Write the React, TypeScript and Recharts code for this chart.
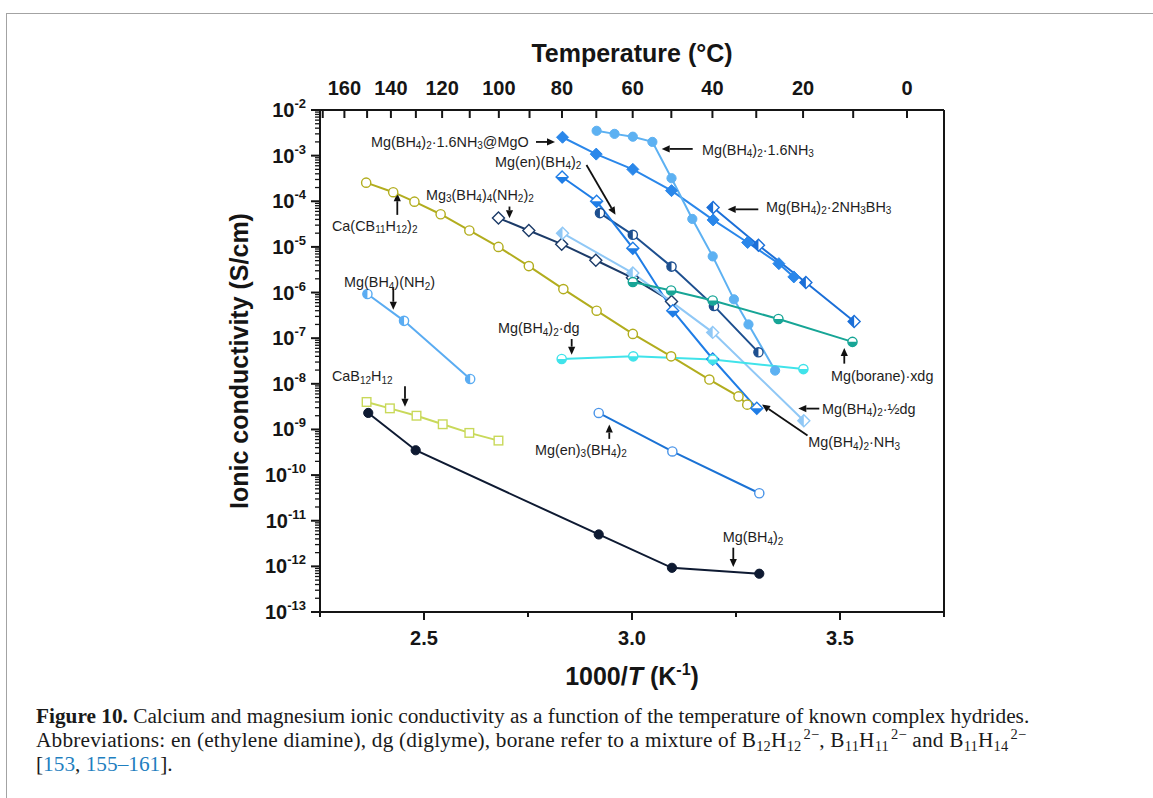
import React from "react";
import { ComposedChart, Line, XAxis, YAxis, ReferenceLine, ReferenceDot, Label } from "recharts";

const FONT = "'Liberation Sans', Arial, Helvetica, sans-serif";
const INK = "#151515";

// ---- data: x = 1000/T (K^-1), y = ionic conductivity (S/cm) ----
const mgBH4X = [2.366, 2.48, 2.92, 3.096, 3.306];
const mgBH4Y = [2.3e-9, 3.5e-10, 5.0e-12, 9.3e-13, 6.9e-13];

const caB12X = [2.362, 2.418, 2.482, 2.545, 2.609, 2.679];
const caB12Y = [4.0e-9, 2.9e-9, 2.0e-9, 1.3e-9, 8.4e-10, 5.7e-10];

const mgBH4NH2X = [2.364, 2.452, 2.611];
const mgBH4NH2Y = [9.3e-7, 2.4e-7, 1.28e-8];

const caCB11X = [2.361, 2.426, 2.477, 2.54, 2.609, 2.679, 2.752, 2.835, 2.915, 3.002, 3.094, 3.186, 3.256, 3.277];
const caCB11Y = [2.56e-4, 1.58e-4, 9.8e-5, 5.2e-5, 2.29e-5, 1.0e-5, 3.8e-6, 1.19e-6, 4.0e-7, 1.24e-7, 4.0e-8, 1.24e-8, 5.3e-9, 3.5e-9];

const mg3X = [2.679, 2.752, 2.831, 2.913, 3.001, 3.095];
const mg3Y = [4.3e-5, 2.29e-5, 1.15e-5, 5.1e-6, 2.1e-6, 6.4e-7];

const mgoX = [2.833, 2.914, 3.002, 3.095, 3.195, 3.278, 3.353, 3.389];
const mgoY = [2.53e-3, 1.08e-3, 5.0e-4, 1.71e-4, 3.9e-5, 1.25e-5, 4.3e-6, 2.2e-6];

const ab2X = [3.195, 3.304, 3.418, 3.534];
const ab2Y = [7.3e-5, 1.09e-5, 1.66e-6, 2.33e-7];

const nh16X = [2.915, 2.958, 3.002, 3.049, 3.095, 3.145, 3.194, 3.245, 3.28, 3.344];
const nh16Y = [3.5e-3, 3.0e-3, 2.6e-3, 2.0e-3, 3.2e-4, 4.1e-5, 6.2e-6, 7.1e-7, 2.0e-7, 1.95e-8];

const enX = [2.923, 3.002, 3.095, 3.197, 3.304];
const enY = [5.5e-5, 1.84e-5, 3.7e-6, 5.1e-7, 4.9e-8];

const nh3X = [2.832, 2.915, 3.002, 3.098, 3.194, 3.3];
const nh3Y = [3.4e-4, 1.0e-4, 9.4e-6, 4.0e-7, 3.5e-8, 2.9e-9];

const halfDgX = [2.833, 3.002, 3.194, 3.413];
const halfDgY = [2.0e-5, 2.67e-6, 1.34e-7, 1.55e-9];

const boraneX = [3.002, 3.094, 3.194, 3.352, 3.53];
const boraneY = [1.7e-6, 1.11e-6, 6.7e-7, 2.63e-7, 8.3e-8];

const dgX = [2.831, 3.003, 3.194, 3.412];
const dgY = [3.5e-8, 4.0e-8, 3.4e-8, 2.1e-8];

const en3X = [2.92, 3.097, 3.306];
const en3Y = [2.3e-9, 3.3e-10, 4.0e-11];

// ---- axes ----
const xTicks = [2.25, 2.5, 2.75, 3.0, 3.25, 3.5, 3.75];
const xTickLabels = ["", "2.5", "", "3.0", "", "3.5", ""];
const tempTicksC = [170, 160, 150, 140, 130, 120, 110, 100, 90, 80, 70, 60, 50, 40, 30, 20, 10, 0];
const yExponents = [-13, -12, -11, -10, -9, -8, -7, -6, -5, -4, -3, -2];
const yMinorMultipliers = [2, 3, 4, 5, 6, 7, 8, 9];

// ---- annotations (data coordinates: x = 1000/T, y = log10 sigma) ----
const labelTexts = [
  "Mg(BH_4)_2·1.6NH_3@MgO",
  "Mg(en)(BH_4)_2",
  "Mg_3(BH_4)_4(NH_2)_2",
  "Ca(CB_11H_12)_2",
  "Mg(BH_4)(NH_2)",
  "CaB_12H_12",
  "Mg(BH_4)_2·1.6NH_3",
  "Mg(BH_4)_2·2NH_3BH_3",
  "Mg(borane)·xdg",
  "Mg(BH_4)_2·½dg",
  "Mg(BH_4)_2·NH_3",
  "Mg(BH_4)_2·dg",
  "Mg(en)_3(BH_4)_2",
  "Mg(BH_4)_2",
];
const labelX = [2.3726, 2.6707, 2.5048, 2.2788, 2.3077, 2.2788, 3.1683, 3.3221, 3.4784, 3.4567, 3.4238, 2.6779, 2.7668, 3.218];
const labelLogY = [-2.7, -3.138, -3.86, -4.538, -5.779, -7.836, -2.875, -4.123, -7.836, -8.549, -9.28, -6.777, -9.44, -11.359];

const arrowX1 = [2.7692, 2.8906, 2.7055, 2.4358, 2.4262, 2.4543, 3.1459, 3.3036, 3.5103, 3.4502, 3.4219, 2.855, 2.9454, 3.2435];
const arrowY1 = [-2.7, -3.204, -4.116, -4.298, -5.902, -8.055, -2.853, -4.177, -7.558, -8.543, -9.133, -7.018, -9.206, -11.591];
const arrowX2 = [2.8149, 2.9603, 2.7055, 2.4358, 2.4262, 2.4543, 3.0714, 3.23, 3.5103, 3.3998, 3.3125, 2.855, 2.9454, 3.2435];
const arrowY2 = [-2.7, -4.298, -4.37, -3.823, -6.376, -8.505, -2.853, -4.177, -7.214, -8.543, -8.455, -7.361, -8.893, -12.015];

const pts = (xs: number[], ys: number[]) => xs.map((x, i) => ({ x, y: ys[i] }));

type Kind =
  | "filledCircle"
  | "openCircle"
  | "halfCircleLeft"
  | "halfCircleBottom"
  | "filledDiamond"
  | "openDiamond"
  | "halfDiamondLeft"
  | "halfDiamondBottom"
  | "openSquare";

const series: { name: string; data: { x: number; y: number }[]; color: string; edge: string; kind: Kind }[] = [
  { name: "Mg(BH4)2", data: pts(mgBH4X, mgBH4Y), color: "#0e1a32", edge: "#0e1a32", kind: "filledCircle" },
  { name: "CaB12H12", data: pts(caB12X, caB12Y), color: "#c9d95a", edge: "#c9d95a", kind: "openSquare" },
  { name: "Mg(BH4)(NH2)", data: pts(mgBH4NH2X, mgBH4NH2Y), color: "#5aacf2", edge: "#5aacf2", kind: "halfCircleLeft" },
  { name: "Ca(CB11H12)2", data: pts(caCB11X, caCB11Y), color: "#b2ad1e", edge: "#b2ad1e", kind: "openCircle" },
  { name: "Mg3(BH4)4(NH2)2", data: pts(mg3X, mg3Y), color: "#1c3b68", edge: "#1c3b68", kind: "openDiamond" },
  { name: "Mg(BH4)2·1.6NH3@MgO", data: pts(mgoX, mgoY), color: "#2a87ea", edge: "#2a87ea", kind: "filledDiamond" },
  { name: "Mg(BH4)2·2NH3BH3", data: pts(ab2X, ab2Y), color: "#1b6fd8", edge: "#1b6fd8", kind: "halfDiamondLeft" },
  { name: "Mg(BH4)2·1.6NH3", data: pts(nh16X, nh16Y), color: "#5db1f2", edge: "#5db1f2", kind: "filledCircle" },
  { name: "Mg(en)(BH4)2", data: pts(enX, enY), color: "#1d4f8f", edge: "#1d4f8f", kind: "halfCircleLeft" },
  { name: "Mg(BH4)2·NH3", data: pts(nh3X, nh3Y), color: "#1f7de6", edge: "#1f7de6", kind: "halfDiamondBottom" },
  { name: "Mg(BH4)2·½dg", data: pts(halfDgX, halfDgY), color: "#90c8f6", edge: "#90c8f6", kind: "halfDiamondLeft" },
  { name: "Mg(borane)·xdg", data: pts(boraneX, boraneY), color: "#17a596", edge: "#17a596", kind: "halfCircleBottom" },
  { name: "Mg(BH4)2·dg", data: pts(dgX, dgY), color: "#40e3ea", edge: "#40e3ea", kind: "halfCircleBottom" },
  { name: "Mg(en)3(BH4)2", data: pts(en3X, en3Y), color: "#1b72d4", edge: "#4a94e8", kind: "openCircle" },
];

const Marker = ({ cx, cy, kind, color, edge }: { cx: number; cy: number; kind: Kind; color: string; edge: string }) => {
  if (cx == null || cy == null || isNaN(cx) || isNaN(cy)) return null;
  const r = 4.6;
  const s = 6;
  const sw = 1.4;
  const diamond = `M${cx},${cy - s} L${cx + s},${cy} L${cx},${cy + s} L${cx - s},${cy} Z`;
  switch (kind) {
    case "filledCircle":
      return <circle cx={cx} cy={cy} r={r} fill={color} stroke={color} strokeWidth={1} />;
    case "openCircle":
      return <circle cx={cx} cy={cy} r={r} fill="#fff" stroke={edge} strokeWidth={sw} />;
    case "halfCircleLeft":
      return (
        <g>
          <circle cx={cx} cy={cy} r={r} fill="#fff" stroke={color} strokeWidth={sw} />
          <path d={`M${cx},${cy - r} A${r},${r} 0 0 0 ${cx},${cy + r} Z`} fill={color} />
        </g>
      );
    case "halfCircleBottom":
      return (
        <g>
          <circle cx={cx} cy={cy} r={r} fill="#fff" stroke={color} strokeWidth={sw} />
          <path d={`M${cx - r},${cy} A${r},${r} 0 0 0 ${cx + r},${cy} Z`} fill={color} />
        </g>
      );
    case "filledDiamond":
      return <path d={diamond} fill={color} stroke={color} strokeWidth={1} />;
    case "openDiamond":
      return <path d={diamond} fill="#fff" stroke={edge} strokeWidth={sw} />;
    case "halfDiamondLeft":
      return (
        <g>
          <path d={diamond} fill="#fff" stroke={color} strokeWidth={sw} />
          <path d={`M${cx},${cy - s} L${cx - s},${cy} L${cx},${cy + s} Z`} fill={color} />
        </g>
      );
    case "halfDiamondBottom":
      return (
        <g>
          <path d={diamond} fill="#fff" stroke={color} strokeWidth={sw} />
          <path d={`M${cx - s},${cy} L${cx + s},${cy} L${cx},${cy + s} Z`} fill={color} />
        </g>
      );
    case "openSquare":
      return <rect x={cx - 4.3} y={cy - 4.3} width={8.6} height={8.6} fill="#fff" stroke={edge} strokeWidth={sw} />;
  }
  return null;
};

const Formula = ({ x, y, text }: { x: number; y: number; text: string }) => {
  const parts = text.split(/(_\d+)/).filter((p) => p.length > 0);
  let low = false;
  return (
    <text x={x} y={y + 5} fontFamily={FONT} fontSize={14.4} fill="#1e1e1e">
      {parts.map((p, i) => {
        if (p.startsWith("_")) {
          const dy = low ? 0 : 2.5;
          low = true;
          return (
            <tspan key={i} fontSize={10} dy={dy}>
              {p.slice(1)}
            </tspan>
          );
        }
        const dy = low ? -2.5 : 0;
        low = false;
        return (
          <tspan key={i} dy={dy}>
            {p}
          </tspan>
        );
      })}
    </text>
  );
};

const ArrowShape = (p: any) => {
  const { x1, y1, x2, y2 } = p;
  if ([x1, y1, x2, y2].some((v) => v == null || isNaN(v))) return null;
  const a = Math.atan2(y2 - y1, x2 - x1);
  const L = 8;
  const W = 3.6;
  const bx = x2 - L * Math.cos(a);
  const by = y2 - L * Math.sin(a);
  const pts2 = `${x2},${y2} ${bx - W * Math.sin(a)},${by + W * Math.cos(a)} ${bx + W * Math.sin(a)},${by - W * Math.cos(a)}`;
  return (
    <g>
      <line x1={x1} y1={y1} x2={bx} y2={by} stroke="#111" strokeWidth={1.8} />
      <polygon points={pts2} fill="#111" />
    </g>
  );
};

const YTick = (props: any) => {
  const { x, y, payload } = props;
  const v = payload.value as number;
  const lg = Math.log10(v);
  const major = Math.abs(lg - Math.round(lg)) < 1e-6;
  return (
    <g>
      <line x1={x - (major ? 9 : 5)} x2={x} y1={y} y2={y} stroke={INK} strokeWidth={major ? 2 : 1.3} />
      {major && (
        <text x={x - 14} y={y + 7} textAnchor="end" fontFamily={FONT} fontWeight="bold" fontSize={20} fill={INK}>
          10
          <tspan dy={-9} fontSize={13}>
            {String(Math.round(lg))}
          </tspan>
        </text>
      )}
    </g>
  );
};

const BottomTick = (props: any) => {
  const { x, y, index } = props;
  const lab = xTickLabels[index] ?? "";
  return (
    <g>
      <line x1={x} x2={x} y1={y} y2={y + (lab ? 8 : 5)} stroke={INK} strokeWidth={2} />
      {lab && (
        <text x={x} y={y + 33} textAnchor="middle" fontFamily={FONT} fontWeight="bold" fontSize={20} fill={INK}>
          {lab}
        </text>
      )}
    </g>
  );
};

// temperature (°C) tick on the top edge, drawn on the shared 1000/T scale
const TopTickShape = (p: any, label: string) => {
  const { x1, y1, y2 } = p;
  if (x1 == null || isNaN(x1)) return null;
  const top = Math.min(y1, y2);
  return (
    <g>
      <line x1={x1} x2={x1} y1={top} y2={top + 8} stroke={INK} strokeWidth={2} />
      {label && (
        <text x={x1} y={top - 15} textAnchor="middle" fontFamily={FONT} fontWeight="bold" fontSize={20} fill={INK}>
          {label}
        </text>
      )}
    </g>
  );
};

const yTicks: number[] = [];
yExponents.forEach((e) => {
  yTicks.push(10 ** e);
  if (e < -2) yMinorMultipliers.forEach((m) => yTicks.push(m * 10 ** e));
});

const topTickPositions = tempTicksC.map((t) => 1000 / (t + 273.15));

const subStyle: React.CSSProperties = { fontSize: "68%", lineHeight: 0, verticalAlign: "baseline", position: "relative", top: "0.3em" };
const supStyle: React.CSSProperties = { fontSize: "68%", lineHeight: 0, verticalAlign: "baseline", position: "relative", top: "-0.55em", marginLeft: 2 };

export default function App() {
  return (
    <div style={{ position: "absolute", left: 0, top: 0, width: 1153, height: 798, overflow: "hidden", background: "#fff" }}>
      <div
        style={{
          position: "absolute",
          left: 6,
          top: 13,
          width: 1200,
          height: 900,
          borderTop: "1.5px solid #a3a3a3",
          borderLeft: "1.5px solid #a3a3a3",
        }}
      />
      <div style={{ position: "absolute", left: 0, top: 0 }}>
        <ComposedChart width={1153} height={700} margin={{ top: 10, right: 208, bottom: 10, left: 200 }}>
          <XAxis
            xAxisId={0}
            dataKey="x"
            type="number"
            domain={[2.25, 3.75]}
            allowDataOverflow
            ticks={xTicks}
            interval={0}
            height={78}
            tickSize={0}
            tickMargin={0}
            tickLine={false}
            tick={<BottomTick />}
            axisLine={{ stroke: INK, strokeWidth: 2 }}
          >
            <Label
              content={(p: any) => {
                const vb = p.viewBox || { x: 320, y: 612, width: 624 };
                return (
                  <text x={vb.x + vb.width / 2} y={vb.y + 73} textAnchor="middle" fontFamily={FONT} fontWeight="bold" fontSize={25} fill={INK}>
                    1000/<tspan fontStyle="italic">T</tspan> (K
                    <tspan dy={-10} fontSize={16}>
                      -1
                    </tspan>
                    <tspan dy={10}>)</tspan>
                  </text>
                );
              }}
            />
          </XAxis>
          <XAxis
            xAxisId="top"
            orientation="top"
            type="number"
            domain={[2.25, 3.75]}
            allowDataOverflow
            height={100}
            tick={false}
            tickLine={false}
            axisLine={{ stroke: INK, strokeWidth: 2 }}
          >
            <Label
              content={(p: any) => {
                const vb = p.viewBox || { x: 320, y: 10, width: 624, height: 100 };
                return (
                  <text x={vb.x + vb.width / 2} y={vb.y + vb.height - 48} textAnchor="middle" fontFamily={FONT} fontWeight="bold" fontSize={25} fill={INK}>
                    Temperature (°C)
                  </text>
                );
              }}
            />
          </XAxis>
          <YAxis
            yAxisId={0}
            type="number"
            scale="log"
            domain={[1e-13, 1e-2]}
            allowDataOverflow
            ticks={yTicks}
            interval={0}
            width={120}
            tickSize={0}
            tickMargin={0}
            tickLine={false}
            tick={<YTick />}
            axisLine={{ stroke: INK, strokeWidth: 2 }}
          >
            <Label
              content={(p: any) => {
                const vb = p.viewBox || { x: 200, y: 110, width: 120, height: 502 };
                const cx = vb.x + vb.width - 72;
                const cy = vb.y + vb.height / 2;
                return (
                  <text x={cx} y={cy} transform={`rotate(-90 ${cx} ${cy})`} textAnchor="middle" fontFamily={FONT} fontWeight="bold" fontSize={25} fill={INK}>
                    Ionic conductivity (S/cm)
                  </text>
                );
              }}
            />
          </YAxis>
          <YAxis yAxisId="right" orientation="right" type="number" domain={[0, 1]} width={1} tick={false} tickLine={false} axisLine={{ stroke: INK, strokeWidth: 2 }} />

          {topTickPositions.map((pos, i) => (
            <ReferenceLine
              key={`tt-${i}`}
              x={pos}
              ifOverflow="visible"
              shape={(p: any) => TopTickShape(p, tempTicksC[i] % 20 === 0 ? String(tempTicksC[i]) : "")}
            />
          ))}

          {series.map((s) => (
            <Line
              key={s.name}
              name={s.name}
              data={s.data}
              dataKey="y"
              type="linear"
              stroke={s.color}
              strokeWidth={2}
              isAnimationActive={false}
              activeDot={false}
              dot={(p: any) => <Marker key={`${s.name}-${p.index}`} cx={p.cx} cy={p.cy} kind={s.kind} color={s.color} edge={s.edge} />}
            />
          ))}

          {labelTexts.map((t, i) => (
            <ReferenceDot
              key={`lab-${i}`}
              x={labelX[i]}
              y={10 ** labelLogY[i]}
              r={0}
              ifOverflow="visible"
              shape={(p: any) => <Formula x={p.cx} y={p.cy} text={t} />}
            />
          ))}
          {arrowX1.map((_, i) => (
            <ReferenceLine
              key={`arr-${i}`}
              segment={[
                { x: arrowX1[i], y: 10 ** arrowY1[i] },
                { x: arrowX2[i], y: 10 ** arrowY2[i] },
              ]}
              ifOverflow="visible"
              shape={ArrowShape}
            />
          ))}
        </ComposedChart>
      </div>
      <div
        style={{
          position: "absolute",
          left: 36,
          top: 704,
          width: 1110,
          fontFamily: "'Liberation Serif', 'Times New Roman', serif",
          fontSize: 21.3,
          lineHeight: "24px",
          color: "#1a1a1a",
          whiteSpace: "nowrap",
        }}
      >
        <div>
          <b>Figure 10.</b> Calcium and magnesium ionic conductivity as a function of the temperature of known complex hydrides.
        </div>
        <div style={{ letterSpacing: "0.2px" }}>
          Abbreviations: en (ethylene diamine), dg (diglyme), borane refer to a mixture of B<span style={subStyle}>12</span>H
          <span style={subStyle}>12</span>
          <span style={supStyle}>2−</span>, B<span style={subStyle}>11</span>H<span style={subStyle}>11</span>
          <span style={supStyle}>2−</span> and B<span style={subStyle}>11</span>H<span style={subStyle}>14</span>
          <span style={supStyle}>2−</span>
        </div>
        <div>
          [<span style={{ color: "#1f7fc0" }}>153</span>, <span style={{ color: "#1f7fc0" }}>155–161</span>].
        </div>
      </div>
    </div>
  );
}
